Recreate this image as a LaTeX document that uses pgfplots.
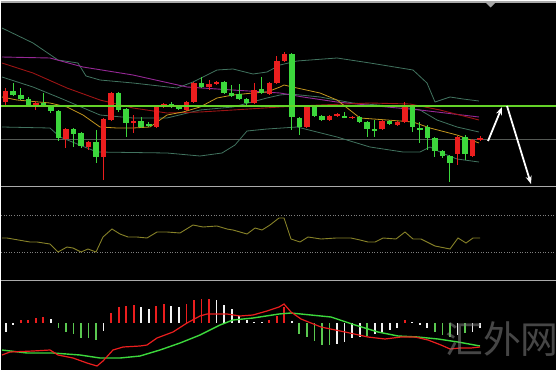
\documentclass[border=0pt]{standalone}
\usepackage{fontspec}
\usepackage{pgfplots}
\usepackage{pgfplotstable}
\pgfplotsset{compat=1.18}
\usetikzlibrary{arrows.meta}
\newfontfamily\cjk{Noto Sans CJK SC}
\definecolor{cRed}{RGB}{235,30,30}
\definecolor{cGreen}{RGB}{60,215,60}
\definecolor{hGreen}{RGB}{90,200,80}
\definecolor{bband}{RGB}{65,115,95}
\definecolor{purp}{RGB}{150,40,150}
\definecolor{dred}{RGB}{155,20,20}
\definecolor{yel}{RGB}{195,150,30}
\definecolor{levelgreen}{RGB}{100,210,40}
\definecolor{levelgray}{RGB}{85,90,85}
\definecolor{olive}{RGB}{135,130,40}
\definecolor{sep}{RGB}{170,170,170}

% candles: i, body top, body bottom, wick top, wick bottom (chart units, downward)
\pgfplotstableread{
i bt bb wt wb
0 91 102 88 106
4 103 105 101 110
8 129 139 128 148
11 142 147 141 150
13 119 157 118 180
14 93 120 92 121
17 121 123 115 133
20 107 127 106 128
21 104 106 103 108
24 102 110 101 111
25 83 102 82 103
27 84 87 80 90
28 82 84 81 85
33 90 103 83 104
35 83 94 82 95
36 61 83 56 84
37 54 61 52 62
40 107 127 106 128
43 116 120 115 121
44 114 116 113 117
46 117 118 116 119
50 121 129 120 130
52 122 125 121 126
53 106 122 102 123
60 137 154 136 165
62 140 156 139 157
63 138 140 136 141
}\redc
\pgfplotstableread{
i bt bb wt wb
1 91 95 83 96
2 95 99 88 100
3 99 106 97 107
5 103 106 93 107
6 106 111 105 113
7 111 138 110 141
9 129 134 128 147
10 133 146 132 148
12 142 157 130 163
15 93 110 92 112
16 109 123 108 137
18 121 127 117 128
19 124 125 122 127
22 104 107 102 108
23 106 109 105 110
26 83 87 77 88
29 82 93 81 94
30 93 96 85 97
31 94 99 84 100
32 99 103 98 107
34 89 93 77 94
38 54 117 53 130
39 118 127 117 135
41 107 116 106 117
42 116 120 115 121
45 116 117 112 118
47 117 122 116 123
48 122 129 121 137
49 129 130 120 137
51 121 124 120 125
54 106 127 105 132
55 128 130 122 143
56 127 138 125 150
57 138 151 137 157
58 151 156 150 158
59 156 163 155 182
61 137 154 135 160
}\greenc
% MACD histogram: i, bar end (zero line at 323)
\pgfplotstableread{
i v
2 320
3 320
4 318
5 317
14 313
15 307
16 306
17 305
20 306
21 304
24 304
25 300
26 299
27 299
35 320
36 316
37 307
53 320
}\hred
\pgfplotstableread{
i v
0 332
1 325
6 319
13 331
18 307
19 309
22 306
23 307
28 300
29 305
30 309
31 316
32 320
33 321.5
34 321.5
38 321
44 344
45 342
46 338
47 337
49 334
50 332
51 330
52 328
54 321.5
55 324.5
56 328
60 335
62 332
63 328
}\hwhite
\pgfplotstableread{
i v
7 328
8 332
9 334
10 338
11 338
12 340
39 334
40 337
41 341
42 345
43 345
48 336
57 332
58 335
59 337
61 333
}\hgreen

\begin{document}
\begin{tikzpicture}
\begin{axis}[
  width=558bp, height=371bp, scale only axis,
  xmin=0, xmax=558, ymin=0, ymax=371, y dir=reverse,
  hide axis, clip=true,
  candle/.style 2 args={draw=none, mark=none, forget plot,
    error bars/.cd, y dir=both, y explicit, error mark=none,
    error bar style={draw=#1, solid, line width=#2}},
]
% background and frame
\fill[white] (axis cs:0,0) rectangle (axis cs:558,371);
\fill[black] (axis cs:1,1) rectangle (axis cs:555.5,369.5);

% panel separators
\addplot[sep, line width=1.5bp, mark=none] coordinates {(1,2)(555.5,2)};
\addplot[sep, line width=1.7bp, mark=none] coordinates {(1,186.5)(555.5,186.5)};
\addplot[sep, line width=1.7bp, mark=none] coordinates {(1,280.5)(555.5,280.5)};
\addplot[gray, dotted, line width=0.6bp, mark=none] coordinates {(1,215)(555.5,215)};
\addplot[gray, dotted, line width=0.6bp, mark=none] coordinates {(1,252)(555.5,252)};

% gray horizontal level
\addplot[levelgray, line width=0.6bp, mark=none] coordinates {(1,139.5)(555.5,139.5)};

% Bollinger bands
\addplot[bband, line width=0.8bp] coordinates {(2,28)(33,43)(58,60)(78,63)(86,76)(100,80)(133,83)(177,88)(193,82)(217,70)(233,69)(253,74)(267,72)(280,65)(297,61)(337,58)(370,63)(413,70)(427,83)(435,102)(450,97)(463,99)(479,101)};
\addplot[bband, line width=0.8bp] coordinates {(2,77)(33,87)(60,98)(100,115)(133,118)(167,118)(200,110)(233,107)(267,98)(280,95)(290,94)(320,97)(353,103)(403,107)(420,110)(437,120)(457,127)(479,132)};
\addplot[bband, line width=0.8bp] coordinates {(2,127)(50,128)(60,137)(97,152)(167,153)(200,156)(222,153)(235,145)(247,131)(267,129)(297,127)(337,137)(370,147)(403,152)(420,152)(430,147)(442,153)(457,159)(479,162)};
% moving averages
\addplot[purp, line width=0.9bp] coordinates {(2,57)(50,58)(83,67)(133,75)(187,87)(217,89)(280,93)(303,97)(337,102)(387,107)(420,110)(479,117)};
\addplot[dred, line width=0.9bp] coordinates {(2,63)(33,73)(67,88)(100,100)(133,108)(167,113)(200,112)(233,110)(280,107)(320,105)(370,103)(410,104)(440,110)(479,120)};
\addplot[yel, line width=0.8bp] coordinates {(2,97)(17,100)(50,103)(67,107)(83,115)(100,127)(117,128)(133,128)(150,127)(167,115)(183,112)(200,107)(217,98)(233,95)(253,93)(267,92)(280,87)(284,85)(297,88)(320,93)(337,100)(360,118)(387,120)(413,122)(430,128)(457,135)(479,143)};

% candles: wicks then bodies
\addplot[candle={cRed}{1bp}] table[x expr=5.7+7.53*\thisrow{i}, y expr=(\thisrow{wt}+\thisrow{wb})/2, y error expr=(\thisrow{wb}-\thisrow{wt})/2] {\redc};
\addplot[candle={cGreen}{1bp}] table[x expr=5.7+7.53*\thisrow{i}, y expr=(\thisrow{wt}+\thisrow{wb})/2, y error expr=(\thisrow{wb}-\thisrow{wt})/2] {\greenc};
\addplot[candle={cRed}{5.5bp}] table[x expr=5.7+7.53*\thisrow{i}, y expr=(\thisrow{bt}+\thisrow{bb})/2, y error expr=(\thisrow{bb}-\thisrow{bt})/2] {\redc};
\addplot[candle={cGreen}{5.5bp}] table[x expr=5.7+7.53*\thisrow{i}, y expr=(\thisrow{bt}+\thisrow{bb})/2, y error expr=(\thisrow{bb}-\thisrow{bt})/2] {\greenc};

% green horizontal level
\addplot[levelgreen, line width=2.0bp, mark=none] coordinates {(1,105.5)(555.5,105.5)};

% arrows
\draw[white, line width=1.8bp, -{Stealth[length=8bp,width=6bp]}] (axis cs:488,141) -- (axis cs:502,107);
\draw[white, line width=1.8bp, -{Stealth[length=8bp,width=6bp]}] (axis cs:507,106) -- (axis cs:531,184);
% small marker at top
\fill[gray!70] (axis cs:486,3) -- (axis cs:495,3) -- (axis cs:490.5,7.5) -- cycle;

% oscillator panel
\addplot[olive, line width=0.9bp] coordinates {(2,238)(7,238)(30,242)(37,242)(50,244)(58,252)(67,247)(73,248)(81,252)(88,249)(96,252)(103,237)(112,229)(120,234)(128,237)(137,237)(147,238)(157,232)(167,232)(180,233)(193,225)(203,227)(217,226)(227,229)(233,230)(240,232)(247,234)(255,228)(262,230)(270,225)(279,218)(284,218)(291,239)(300,242)(308,237)(321,239)(336,238)(351,238)(360,240)(368,242)(375,242)(383,238)(396,239)(405,232)(413,239)(421,239)(435,246)(450,249)(458,238)(466,243)(473,238)(480,238)};

% MACD histogram
\addplot[candle={cRed}{1.8bp}] table[x expr=5.7+7.53*\thisrow{i}, y expr=(323+\thisrow{v})/2, y error expr=abs(\thisrow{v}-323)/2] {\hred};
\addplot[candle={white!90!gray}{1.8bp}] table[x expr=5.7+7.53*\thisrow{i}, y expr=(323+\thisrow{v})/2, y error expr=abs(\thisrow{v}-323)/2] {\hwhite};
\addplot[candle={hGreen}{1.8bp}] table[x expr=5.7+7.53*\thisrow{i}, y expr=(323+\thisrow{v})/2, y error expr=abs(\thisrow{v}-323)/2] {\hgreen};
% MACD lines
\addplot[cGreen, line width=1.4bp] coordinates {(2,350)(27,353)(53,353)(80,355)(100,358)(120,358)(140,356)(160,350)(180,343)(200,335)(220,325)(233,320)(253,318)(279,314)(291,313)(311,315)(331,317)(355,325)(378,332)(398,336)(418,337)(438,339)(458,342)(480,346)};
\addplot[cRed, line width=1.2bp] coordinates {(2,355)(10,352)(33,351)(50,350)(58,355)(73,358)(87,363)(97,366)(103,361)(113,350)(123,347)(140,346)(147,345)(157,338)(173,332)(187,323)(200,316)(207,314)(227,314)(240,316)(253,315)(267,311)(279,307)(284,304)(291,312)(301,319)(321,327)(345,332)(368,337)(385,339)(401,337)(415,337)(428,340)(441,345)(450,349)(460,348)(471,348)(480,347)};

% watermark
\node[text=gray, opacity=0.55, inner sep=0pt] at (axis cs:502,339) {\cjk\fontsize{38}{38}\selectfont 汇外网};
\end{axis}
\end{tikzpicture}
\end{document}
